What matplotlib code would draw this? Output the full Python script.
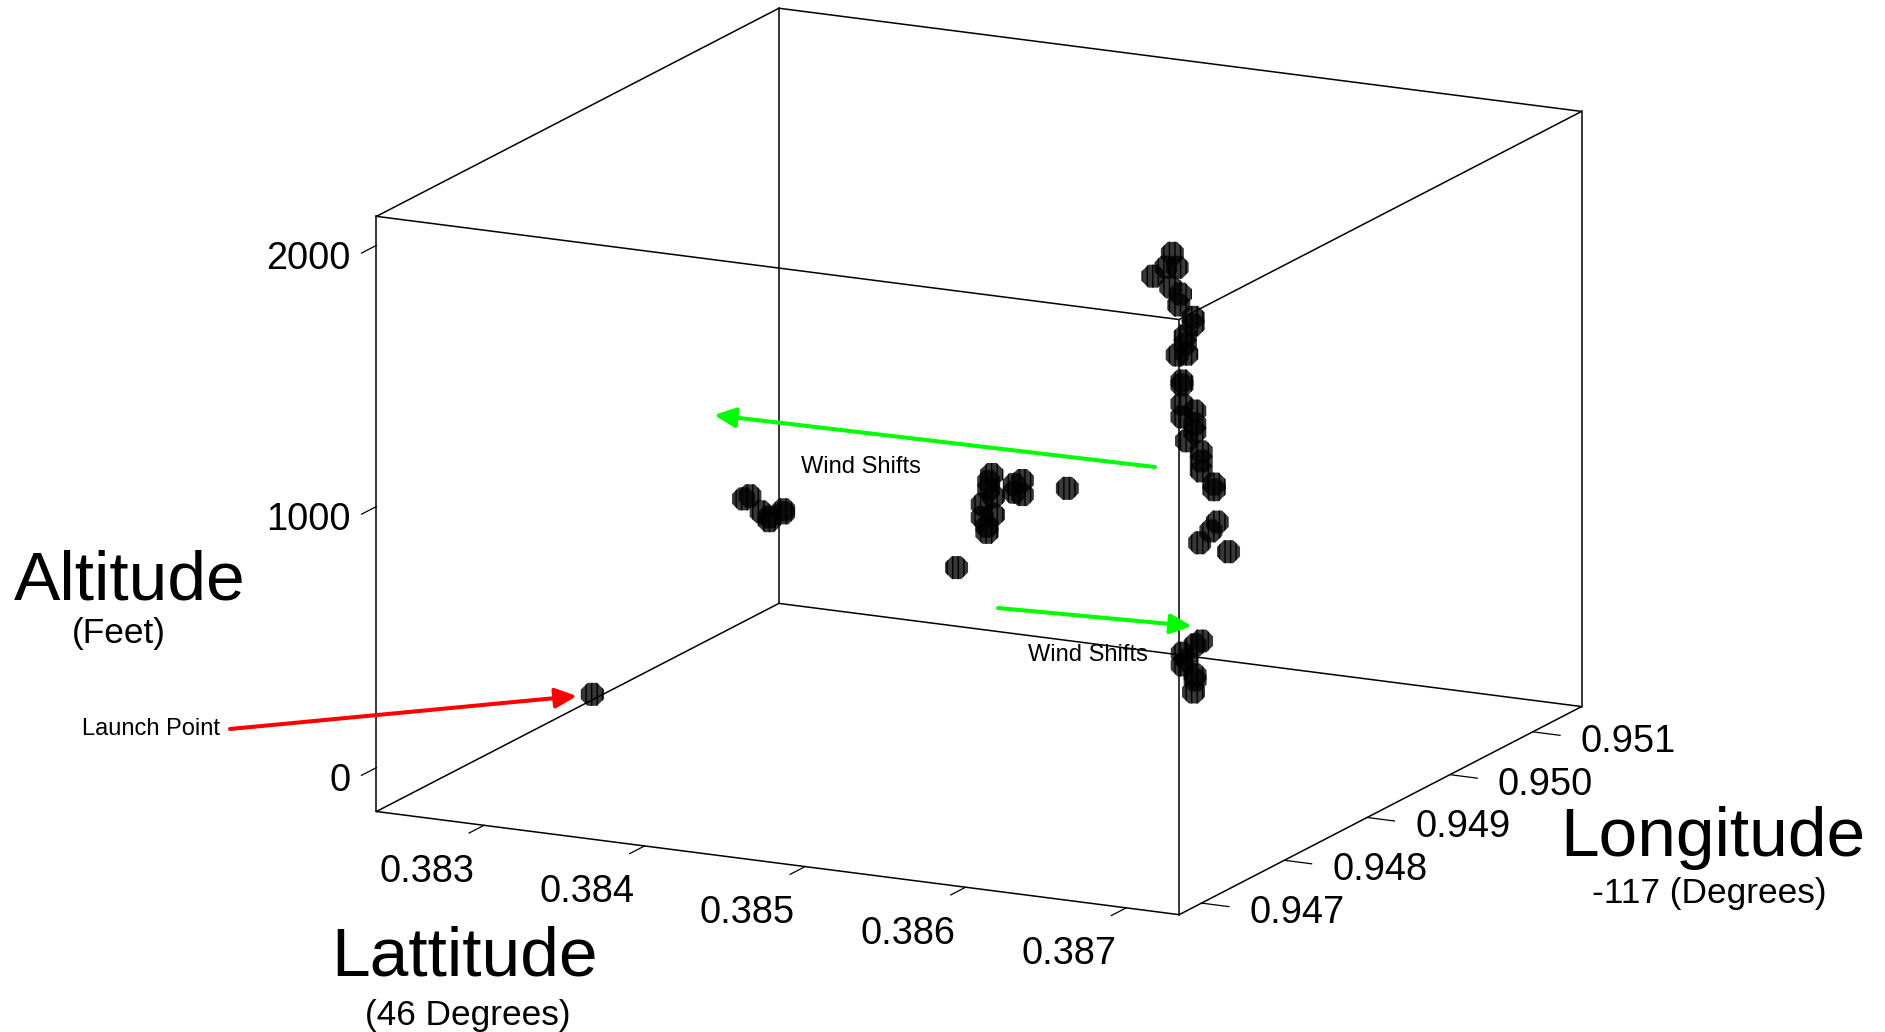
import matplotlib
matplotlib.use('Agg')
from matplotlib import pyplot as plt
from mpl_toolkits.mplot3d import proj3d

plt.rcParams['font.family'] = ['Liberation Sans', 'DejaVu Sans']
plt.rcParams['hatch.linewidth'] = 1.0

# Osi
lat_min, lat_max = 0.38233, 0.38733
lon_min, lon_max = 0.94673, 0.95159
alt_min, alt_max = -168, 2111

lat_ticks = [0.383, 0.384, 0.385, 0.386, 0.387]
lon_ticks = [0.947, 0.948, 0.949, 0.950, 0.951]
alt_ticks = [0, 1000, 2000]

# Let, po dijelovima
launch_lat = [0.3827]
launch_alt = [0]
launch_lon = 0.94862

left_lat = [0.38311, 0.38315, 0.38322, 0.38327, 0.38327, 0.38336, 0.38336]
left_alt = [612, 627, 571, 541, 555, 590, 578]
left_lon = 0.94965

mid_lat = [0.38491, 0.38489, 0.38489, 0.38492, 0.38485, 0.38492, 0.38485, 0.38488, 0.38488,
           0.38505, 0.3851, 0.3851, 0.38505, 0.38538, 0.38469]
mid_alt = [928, 900, 869, 844, 809, 775, 759, 727, 704, 901, 920, 866, 871, 912, 554]
mid_lon = 0.94916

low_lat = [0.38684, 0.3868, 0.38672, 0.38672, 0.38675, 0.3868, 0.3868, 0.38679]
low_alt = [641, 623, 585, 540, 561, 508, 489, 442]
low_lon = 0.94795

col_lat = [0.38541, 0.38537, 0.38544, 0.38529, 0.3854, 0.38546, 0.38545, 0.38554, 0.38554, 0.38549,
           0.38549, 0.38544, 0.3855, 0.38547, 0.38547, 0.38547, 0.38555, 0.38547, 0.38555, 0.38555,
           0.3855, 0.38559, 0.38559, 0.38559, 0.38567, 0.38567, 0.38569, 0.38565, 0.38558, 0.38576]
col_alt = [1616, 1560, 1565, 1519, 1486, 1464, 1421, 1381, 1352, 1306,
           1275, 1229, 1237, 1132, 1117, 1044, 1023, 994, 974, 943,
           905, 870, 835, 797, 753, 731, 609, 572, 521, 501]
col_lon = 0.95037

segments = [(launch_lat, launch_lon, launch_alt), (left_lat, left_lon, left_alt),
            (mid_lat, mid_lon, mid_alt), (low_lat, low_lon, low_alt), (col_lat, col_lon, col_alt)]

fig = plt.figure(figsize=(18.85, 10.32), dpi=100)
ax = fig.add_axes([274.5 / 1885, -134 / 1032, 1372 / 1885, 1372 / 1032], projection='3d', proj_type='ortho')
ax.computed_zorder = False
ax.set_box_aspect((897, 902, 616))
ax.view_init(elev=14.94, azim=-63.5)
ax.set_xlim(lat_min, lat_max, view_margin=0)
ax.set_ylim(lon_min, lon_max, view_margin=0)
ax.set_zlim(alt_min, alt_max, view_margin=0)
ax.set_axis_off()

# Kutija
for x in (lat_min, lat_max):
    for y in (lon_min, lon_max):
        ax.plot([x, x], [y, y], [alt_min, alt_max], 'k', lw=1.1, zorder=1)
for z in (alt_min, alt_max):
    ax.plot([lat_min, lat_max, lat_max, lat_min, lat_min], [lon_min, lon_min, lon_max, lon_max, lon_min],
            [z] * 5, 'k', lw=1.1, zorder=1)

# Oznake na osima
lat_range = lat_max - lat_min
lon_range = lon_max - lon_min
alt_range = alt_max - alt_min
M = ax.get_proj()

def natpis(x, y, z, s, ha):
    px, py, _ = proj3d.proj_transform(x, y, z, M)
    ax.text2D(px, py, s, transform=ax.transData, fontsize=27.4, ha=ha, va='center')

for t in lat_ticks:
    ax.plot([t, t], [lon_min, lon_min - 0.037 * lon_range], [alt_min, alt_min], 'k', lw=0.9, zorder=1)
    natpis(t, lon_min - 0.143 * lon_range, alt_min - 0.028 * alt_range, f'{t:.3f}', 'center')
for t in lon_ticks:
    ax.plot([lat_max, lat_max + 0.034 * lat_range], [t, t], [alt_min, alt_min], 'k', lw=0.9, zorder=1)
    natpis(lat_max + 0.119 * lat_range, t, alt_min + 0.004 * alt_range, f'{t:.3f}', 'center')
for t in alt_ticks:
    ax.plot([lat_min, lat_min], [lon_min, lon_min - 0.037 * lon_range], [t, t], 'k', lw=0.9, zorder=1)
    natpis(lat_min, lon_min - 0.065 * lon_range, t, f'{t}', 'right')

# Tocke
for lats, lon, alts in segments:
    ax.scatter(lats, [lon] * len(lats), alts, marker='8', s=320, facecolor=(0, 0, 0, 0.78),
               edgecolor='k', linewidths=0, hatch='|||', depthshade=False, zorder=3)

# Natpisi i strelice, u pikselima slike
over = fig.add_axes([0, 0, 1, 1])
over.set_xlim(0, 1885)
over.set_ylim(1032, 0)
over.axis('off')
over.patch.set_alpha(0)

def strelica(x0, y0, x1, y1, boja):
    over.annotate('', xy=(x1, y1), xytext=(x0, y0),
                  arrowprops=dict(arrowstyle='-|>,head_length=13,head_width=6', mutation_scale=1,
                                  color=boja, lw=2.9, shrinkA=0, shrinkB=0))

strelica(1155, 467, 714, 415, '#00ff00')
strelica(998, 608, 1192, 626, '#00ff00')
strelica(230, 729, 577, 696, '#ff0000')

over.text(861, 467, 'Wind Shifts', fontsize=17, ha='center', va='center')
over.text(1088, 655, 'Wind Shifts', fontsize=17, ha='center', va='center')
over.text(151, 729, 'Launch Point', fontsize=17, ha='center', va='center')
over.text(130, 581, 'Altitude', fontsize=50, ha='center', va='center')
over.text(119, 634, '(Feet)', fontsize=25.4, ha='center', va='center')
over.text(465, 957, 'Lattitude', fontsize=50, ha='center', va='center')
over.text(468, 1015, '(46 Degrees)', fontsize=25.4, ha='center', va='center')
over.text(1713, 838, 'Longitude', fontsize=50, ha='center', va='center')
over.text(1709, 894, '-117 (Degrees)', fontsize=25.4, ha='center', va='center')

fig.savefig('out.png', dpi=100)
